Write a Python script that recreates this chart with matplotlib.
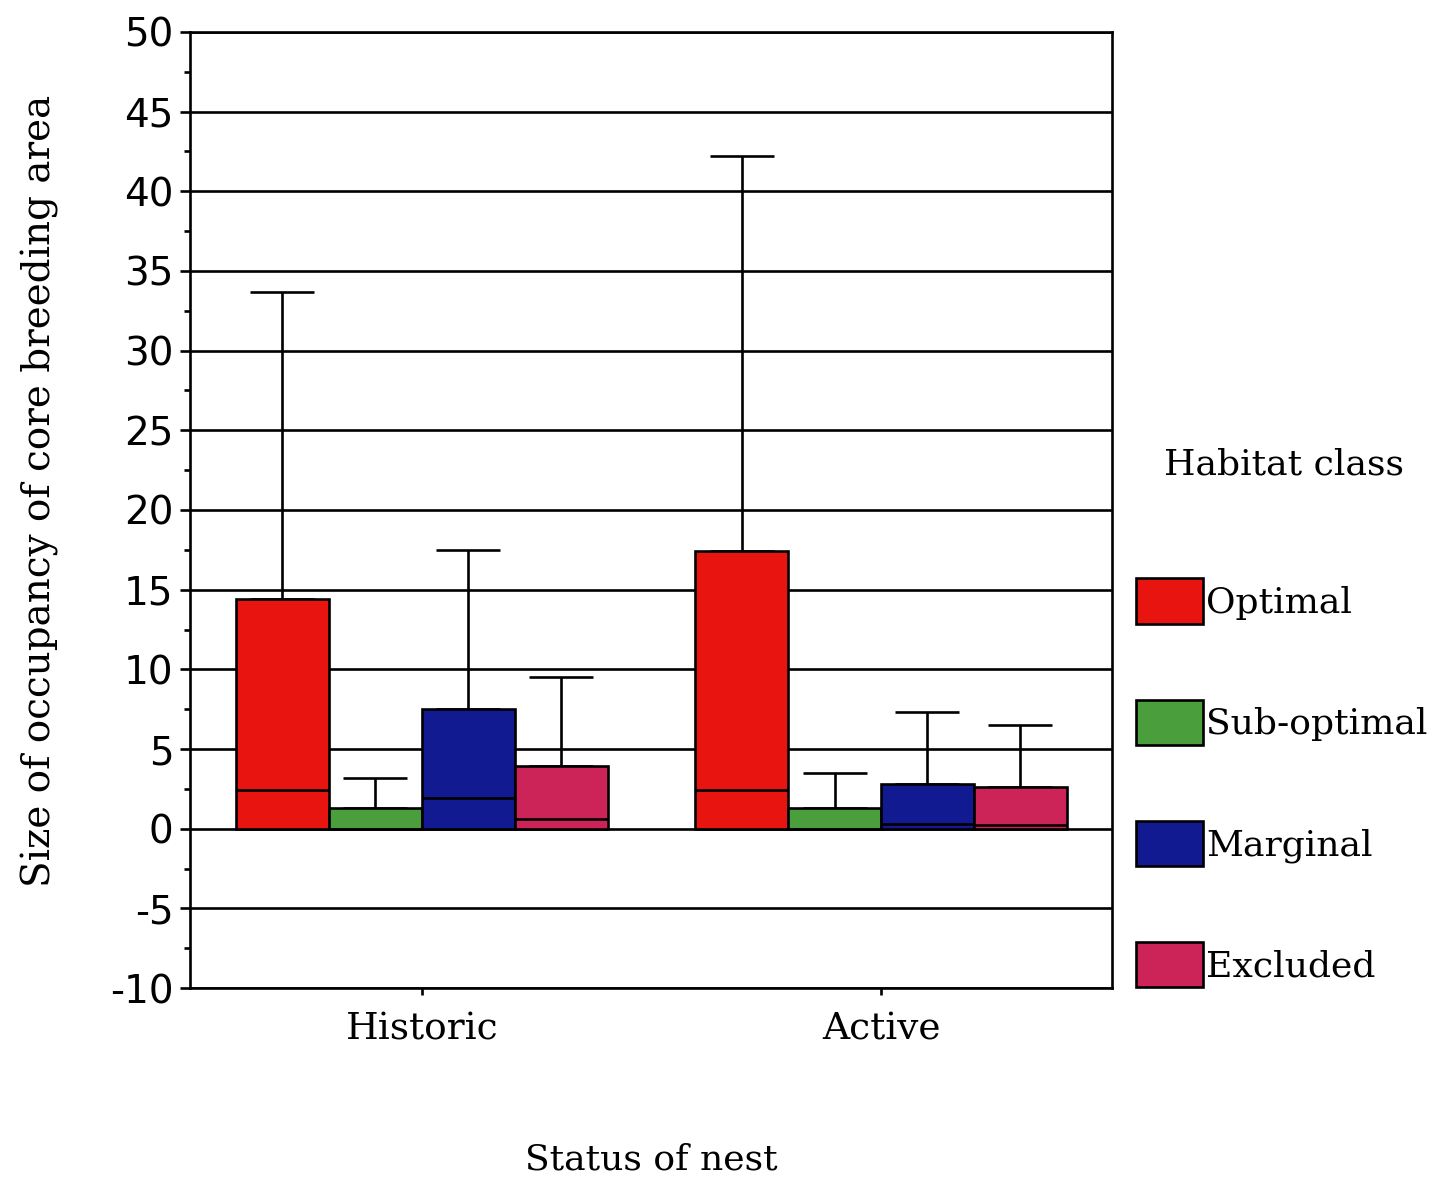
import numpy as np
import matplotlib
matplotlib.use("Agg")
import matplotlib.pyplot as plt
from matplotlib.patches import Patch

plt.rcParams["axes.unicode_minus"] = False

# data
status = ["Historic", "Active"]
habitat = ["Optimal", "Sub-optimal", "Marginal", "Excluded"]
colors = ["#e81410", "#4a9e3c", "#121a92", "#cc2458"]

bar_top = {
    "Optimal": [14.4, 17.4],
    "Sub-optimal": [1.3, 1.3],
    "Marginal": [7.5, 2.8],
    "Excluded": [3.95, 2.6],
}
median = {
    "Optimal": [2.4, 2.45],
    "Sub-optimal": [0.0, 0.0],
    "Marginal": [1.95, 0.3],
    "Excluded": [0.6, 0.2],
}
upper = {
    "Optimal": [33.7, 42.2],
    "Sub-optimal": [3.2, 3.5],
    "Marginal": [17.5, 7.35],
    "Excluded": [9.5, 6.5],
}

serif = ["DejaVu Serif"]
sans = ["DejaVu Sans"]

fig = plt.figure(figsize=(14.4, 11.8), dpi=100)
ax = fig.add_axes([0.1319, 0.1627, 0.6403, 0.8102])

x = np.arange(len(status))
width = 0.2025
lw = 1.9

for i, h in enumerate(habitat):
    xpos = x + (i - 1.5) * width
    tops = np.array(bar_top[h])
    ax.bar(xpos, tops, width=width, color=colors[i], edgecolor="black",
           linewidth=lw, zorder=3)
    ax.hlines(median[h], xpos - width / 2, xpos + width / 2, color="black",
              linewidth=lw, zorder=4)
    ax.errorbar(xpos, tops, yerr=[np.zeros(len(tops)), np.array(upper[h]) - tops],
                fmt="none", ecolor="black", elinewidth=lw, capsize=23,
                capthick=lw, zorder=2)

ax.set_xlim(-0.505, 1.503)
ax.set_ylim(-10, 50)
ax.set_yticks(np.arange(-10, 51, 5))
ax.set_yticks(np.arange(-10, 50, 2.5), minor=True)
ax.yaxis.grid(True, which="major", color="black", linewidth=lw, zorder=0)
ax.set_axisbelow(True)

ax.set_xticks(x)
ax.set_xticklabels(status, fontfamily=serif, fontsize=27)
for lab in ax.get_yticklabels():
    lab.set_fontfamily(sans)
    lab.set_fontsize(28)
ax.tick_params(axis="y", which="major", length=7, width=lw, pad=5)
ax.tick_params(axis="y", which="minor", length=4.5, width=lw)
ax.tick_params(axis="x", length=5, width=lw, pad=12)

for s in ax.spines.values():
    s.set_linewidth(lw)

ax.set_ylabel("Size of occupancy of core breeding area", fontfamily=serif,
              fontsize=28)
ax.yaxis.set_label_coords(-0.142, 0.52)
ax.set_xlabel("Status of nest", fontfamily=serif, fontsize=26, labelpad=68)

handles = [Patch(facecolor=c, edgecolor="black", linewidth=lw) for c in colors]
leg = fig.legend(handles, habitat, loc="upper left",
                 bbox_to_anchor=(0.779, 0.522), frameon=False,
                 prop={"family": serif, "size": 26},
                 handlelength=1.85, handleheight=1.55, handletextpad=0.08,
                 labelspacing=2.1, borderaxespad=0)
fig.text(0.892, 0.606, "Habitat class", fontfamily=serif, fontsize=26,
         ha="center", va="center")

fig.savefig("out.png", dpi=100)
